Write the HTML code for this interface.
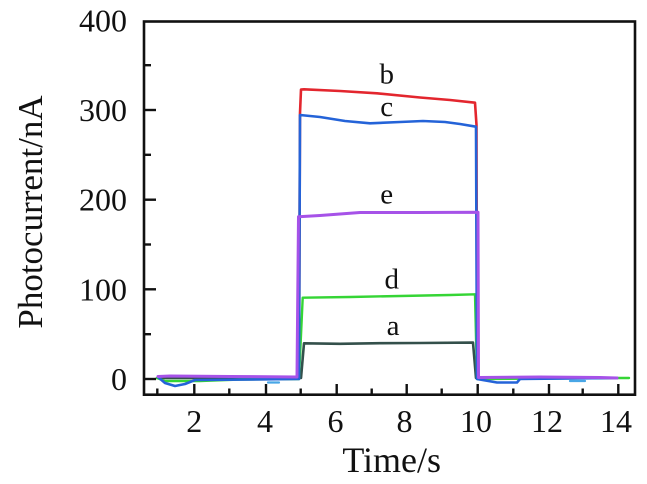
<!DOCTYPE html>
<html>
<head>
<meta charset="utf-8">
<style>
html,body{margin:0;padding:0;background:#fff;}
svg{display:block;}
text{font-family:"Liberation Serif",serif;fill:#111;}
</style>
</head>
<body>
<svg width="647" height="484" viewBox="0 0 647 484" xmlns="http://www.w3.org/2000/svg">
<rect x="0" y="0" width="647" height="484" fill="#fff"/>

<!-- series -->
<g fill="none" stroke-linejoin="round" stroke-linecap="round">
  <!-- b red -->
  <path d="M158,377 L299,377 L300,113 L301,89.5 L304,89.3 L340,91 L377,93.3 L420,97.5 L450,100 L475,102.7 L476.5,125 L477,378 L617,378" stroke="#e3262e" stroke-width="2.6"/>
  <!-- a dark -->
  <path d="M157,378 L300,378 L301,378 L304,343.3 L340,343.8 L380,343.2 L420,343 L473,342.6 L476,378 L617,378" stroke="#34504b" stroke-width="2.6"/>
  <!-- d green -->
  <path d="M157,378 L165,381 L200,381 L240,379.5 L299,379 L302.7,297.7 L350,297 L400,296 L450,295 L475,294.3 L477,379 L617,378 L629,378" stroke="#35d535" stroke-width="2.4"/>
  <!-- c blue -->
  <path d="M158,377 L165,383 L175,386 L185,384 L195,380 L299,379 L300,115 L320,117 L345,121 L370,123.3 L400,122 L423,121 L445,122 L460,124 L476,126.7 L477,379 L497,382.5 L517,382.5 L520,379 L617,378" stroke="#2463d8" stroke-width="2.6"/>
  <path d="M268,382.5 L279,382.5 M570,381 L585,381" stroke="#48a6e6" stroke-width="2.2"/>
  <!-- e purple -->
  <path d="M158,376.5 L170,376 L230,376.5 L297,377 L298.5,216.7 L320,215.5 L340,214 L360,212.5 L420,212.5 L478,212.3 L478.5,377.5 L540,377 L600,377.5 L617,378" stroke="#a652e8" stroke-width="3"/>
</g>

<!-- axes box -->
<rect x="144" y="21.5" width="491" height="373.2" fill="none" stroke="#111" stroke-width="2.6"/>

<!-- y ticks -->
<g stroke="#111" stroke-width="2.4">
  <line x1="144" y1="379" x2="156" y2="379"/>
  <line x1="144" y1="334.2" x2="151" y2="334.2"/>
  <line x1="144" y1="289.3" x2="156" y2="289.3"/>
  <line x1="144" y1="244.5" x2="151" y2="244.5"/>
  <line x1="144" y1="199.7" x2="156" y2="199.7"/>
  <line x1="144" y1="154.8" x2="151" y2="154.8"/>
  <line x1="144" y1="110" x2="156" y2="110"/>
  <line x1="144" y1="65.2" x2="151" y2="65.2"/>
</g>

<!-- x ticks -->
<g stroke="#111" stroke-width="2.4">
  <line x1="157.3" y1="394.7" x2="157.3" y2="388.5"/>
  <line x1="194.3" y1="394.7" x2="194.3" y2="384"/>
  <line x1="229.3" y1="394.7" x2="229.3" y2="388.5"/>
  <line x1="266" y1="394.7" x2="266" y2="384"/>
  <line x1="300.7" y1="394.7" x2="300.7" y2="388.5"/>
  <line x1="336.7" y1="394.7" x2="336.7" y2="384"/>
  <line x1="371.7" y1="394.7" x2="371.7" y2="388.5"/>
  <line x1="406.7" y1="394.7" x2="406.7" y2="384"/>
  <line x1="441.7" y1="394.7" x2="441.7" y2="388.5"/>
  <line x1="477.7" y1="394.7" x2="477.7" y2="384"/>
  <line x1="513.3" y1="394.7" x2="513.3" y2="388.5"/>
  <line x1="549" y1="394.7" x2="549" y2="384"/>
  <line x1="582.7" y1="394.7" x2="582.7" y2="388.5"/>
  <line x1="618.3" y1="394.7" x2="618.3" y2="384"/>
</g>

<!-- y tick labels -->
<g font-size="32" text-anchor="end">
  <text x="127" y="390">0</text>
  <text x="127" y="300.3">100</text>
  <text x="127" y="210.7">200</text>
  <text x="127" y="121">300</text>
  <text x="127" y="31.5">400</text>
</g>

<!-- x tick labels -->
<g font-size="32" text-anchor="middle">
  <text x="194.3" y="432">2</text>
  <text x="265" y="432">4</text>
  <text x="335.5" y="432">6</text>
  <text x="404.5" y="432">8</text>
  <text x="476" y="432">10</text>
  <text x="547" y="432">12</text>
  <text x="616" y="432">14</text>
</g>

<!-- axis titles -->
<text x="391.7" y="472" font-size="36" text-anchor="middle">Time/s</text>
<text transform="translate(42,212) rotate(-90)" font-size="35" text-anchor="middle">Photocurrent/nA</text>

<!-- curve labels -->
<g font-size="29" text-anchor="middle">
  <text x="386.7" y="83.3">b</text>
  <text x="386.7" y="116">c</text>
  <text x="386.7" y="203.3">e</text>
  <text x="391.7" y="288.3">d</text>
  <text x="393" y="335">a</text>
</g>
</svg>
</body>
</html>
